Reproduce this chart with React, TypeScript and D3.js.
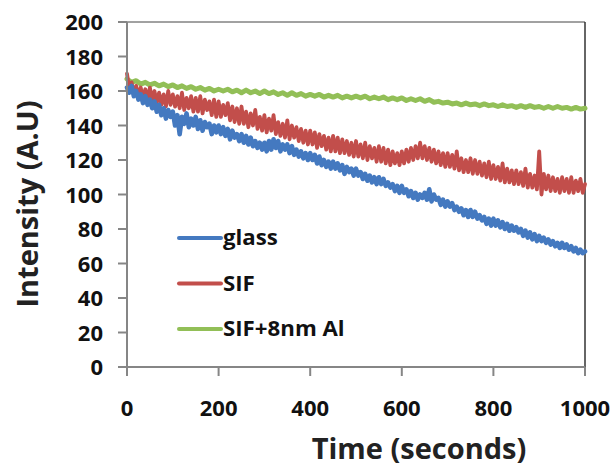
import React from "react";
import * as d3 from "d3";

// time axes (seconds)
const timesFine: number[] = d3.range(0, 1001, 5);
const timesCoarse: number[] = d3.range(0, 1001, 10);

// glass (blue), every 5 s
const glass: number[] = [
  162, 159, 163, 157, 160, 155, 158, 153, 157, 152,
  155, 150, 154, 148, 152, 146, 150, 144, 149, 145,
  148, 140, 146, 135, 145, 141, 147, 139, 144, 140,
  145, 138, 143, 137, 142, 139, 141, 135, 140, 136,
  140, 135, 139, 134, 138, 132, 137, 133, 135, 131,
  135, 130, 134, 129, 133, 128, 131, 127, 130, 126,
  130, 125, 131, 126, 132, 127, 131, 125, 129, 126,
  129, 124, 128, 123, 126, 122, 125, 121, 124, 120,
  124, 120, 123, 118, 122, 117, 120, 116, 119, 115,
  119, 115, 118, 114, 117, 112, 116, 113, 115, 111,
  115, 111, 113, 109, 112, 108, 111, 107, 110, 106,
  110, 106, 109, 105, 107, 104, 106, 102, 105, 101,
  105, 101, 103, 99, 102, 98, 101, 97, 100, 98,
  101, 97, 103, 96, 100, 97, 98, 94, 97, 93,
  96, 93, 95, 91, 93, 90, 92, 88, 91, 87,
  91, 87, 90, 86, 88, 85, 87, 83, 86, 82,
  86, 82, 85, 81, 84, 80, 83, 79, 82, 79,
  81, 78, 80, 76, 79, 75, 78, 74, 77, 73,
  76, 73, 75, 72, 74, 71, 73, 70, 72, 69,
  72, 69, 71, 68, 70, 67, 69, 66, 68, 66,
  67,
];

// SIF (red), every 5 s
const sif: number[] = [
  170, 161, 165, 158, 163, 157, 162, 156, 161, 155,
  162, 154, 160, 153, 159, 152, 158, 151, 160, 152,
  158, 151, 157, 150, 159, 149, 156, 150, 157, 148,
  156, 148, 157, 147, 155, 149, 154, 146, 155, 145,
  154, 145, 152, 146, 153, 143, 151, 142, 150, 141,
  151, 141, 148, 139, 147, 140, 149, 138, 145, 137,
  146, 136, 144, 137, 146, 135, 142, 134, 141, 133,
  143, 132, 140, 133, 139, 131, 138, 130, 137, 129,
  137, 129, 136, 127, 135, 128, 134, 126, 133, 125,
  134, 125, 133, 124, 132, 124, 131, 123, 130, 122,
  131, 122, 129, 121, 130, 120, 128, 121, 127, 119,
  128, 119, 127, 118, 126, 117, 125, 118, 124, 117,
  125, 118, 126, 119, 127, 120, 128, 121, 130, 121,
  128, 120, 127, 119, 126, 118, 125, 117, 124, 116,
  124, 116, 123, 115, 125, 114, 121, 113, 120, 113,
  121, 112, 120, 112, 119, 111, 118, 110, 119, 109,
  117, 109, 116, 108, 118, 107, 115, 107, 114, 106,
  114, 106, 113, 105, 115, 104, 112, 104, 111, 103,
  125, 100, 112, 103, 111, 102, 110, 102, 109, 101,
  110, 102, 109, 101, 110, 101, 108, 102, 109, 101,
  106,
];

// SIF+8nm Al (green), every 10 s
const sifAl: number[] = [
  167, 165, 166, 164, 165, 163.5, 164.5, 163, 164, 162.5, 163.5, 162, 163, 161.5, 162.5, 161, 162, 160.5, 161.5, 160,
  161, 160, 161, 159.5, 160.5, 159, 160.5, 159, 160, 158.5, 160, 158.5, 159.5, 158, 159, 157.5, 159, 157.5, 158.5, 157,
  158, 157, 158, 156.5, 157.5, 156.5, 157.5, 156, 157, 156, 157, 156, 157, 155.5, 156.5, 155.5, 156.5, 155, 156, 155,
  156, 154.5, 155.5, 154.5, 155.5, 154, 155, 153.5, 154, 153, 153.5, 152.5, 153, 152, 153, 152, 152.5, 151.5, 152.5, 151.5,
  152, 151, 152, 151, 151.5, 150.5, 151.5, 150.5, 151.5, 150.5, 151, 150, 151, 150, 151, 150, 150.5, 149.5, 150.5, 149.5, 150,
];

const seriesNames: string[] = ["glass", "SIF", "SIF+8nm Al"];
const seriesColors: string[] = ["#4479C0", "#C24E4B", "#92BF57"];
const xTicks: number[] = [0, 200, 400, 600, 800, 1000];
const yTicks: number[] = [0, 20, 40, 60, 80, 100, 120, 140, 160, 180, 200];
const xTitle = "Time (seconds)";
const yTitle = "Intensity (A.U)";

const W = 614;
const H = 469;
const M = { left: 127, right: 29, top: 22, bottom: 102 };
const FONT = "'Open Sans', Lato, sans-serif";

export default function App() {
  const x = d3.scaleLinear().domain([0, 1000]).range([M.left, W - M.right]);
  const y = d3.scaleLinear().domain([0, 200]).range([H - M.bottom, M.top]);
  const line = d3
    .line<[number, number]>()
    .x((d) => x(d[0]))
    .y((d) => y(d[1]));
  const series = [
    { vals: glass, t: timesFine, w: 4.6 },
    { vals: sif, t: timesFine, w: 3.8 },
    { vals: sifAl, t: timesCoarse, w: 5 },
  ];
  const x0 = x(0);
  const x1 = x(1000);
  const y0 = y(0);
  const y1 = y(200);
  const axisColor = "#868686";

  return (
    <svg width={W} height={H} style={{ position: "absolute", left: 0, top: 0, background: "#fff" }}>
      <rect x={0} y={0} width={W} height={H} fill="#fff" />
      <line x1={x0} x2={x1} y1={y1} y2={y1} stroke="#444" strokeWidth={1} />
      <line x1={x1} x2={x1} y1={y1} y2={y0} stroke="#333" strokeWidth={1.5} />
      {series
        .map((s, i) => ({ ...s, i }))
        .reverse()
        .map((s) => {
          const pts = s.t.map((t, k) => [t, s.vals[k]] as [number, number]);
          return (
            <path
              key={s.i}
              d={line(pts) || ""}
              fill="none"
              stroke={seriesColors[s.i]}
              strokeWidth={s.w}
              strokeLinejoin="round"
              strokeLinecap="round"
            />
          );
        })}
      <line x1={x0} x2={x0} y1={y1} y2={y0} stroke={axisColor} strokeWidth={2} />
      <line x1={x0} x2={x1} y1={y0} y2={y0} stroke={axisColor} strokeWidth={2} />
      {yTicks.map((t) => (
        <g key={"y" + t}>
          <line x1={x0 - 9} x2={x0} y1={y(t)} y2={y(t)} stroke={axisColor} strokeWidth={2} />
          <text x={103} y={y(t) + 8} textAnchor="end" fontFamily={FONT} fontWeight="bold" fontSize={22} fill="#111">
            {t}
          </text>
        </g>
      ))}
      {xTicks.map((t) => (
        <g key={"x" + t}>
          <line x1={x(t)} x2={x(t)} y1={y0} y2={y0 + 9} stroke={axisColor} strokeWidth={2} />
          <text x={x(t)} y={416} textAnchor="middle" fontFamily={FONT} fontWeight="bold" fontSize={22} fill="#111">
            {t}
          </text>
        </g>
      ))}
      <text
        x={419}
        y={459}
        textAnchor="middle"
        fontFamily={FONT}
        fontWeight="bold"
        fontSize={29}
        fill="#222"
      >
        {xTitle}
      </text>
      <text
        transform={`translate(38,204) rotate(-90)`}
        textAnchor="middle"
        fontFamily={FONT}
        fontWeight="bold"
        fontSize={29}
        fill="#222"
      >
        {yTitle}
      </text>
      {seriesNames.map((n, i) => {
        const ly = 238 + i * 45.5;
        return (
          <g key={n}>
            <line x1={179} x2={221} y1={ly} y2={ly} stroke={seriesColors[i]} strokeWidth={4} strokeLinecap="round" />
            <g transform={`translate(223,${ly + 7}) scale(1.06,1)`}>
              <text fontFamily={FONT} fontWeight="bold" fontSize={21} fill="#111">
                {n}
              </text>
            </g>
          </g>
        );
      })}
    </svg>
  );
}
